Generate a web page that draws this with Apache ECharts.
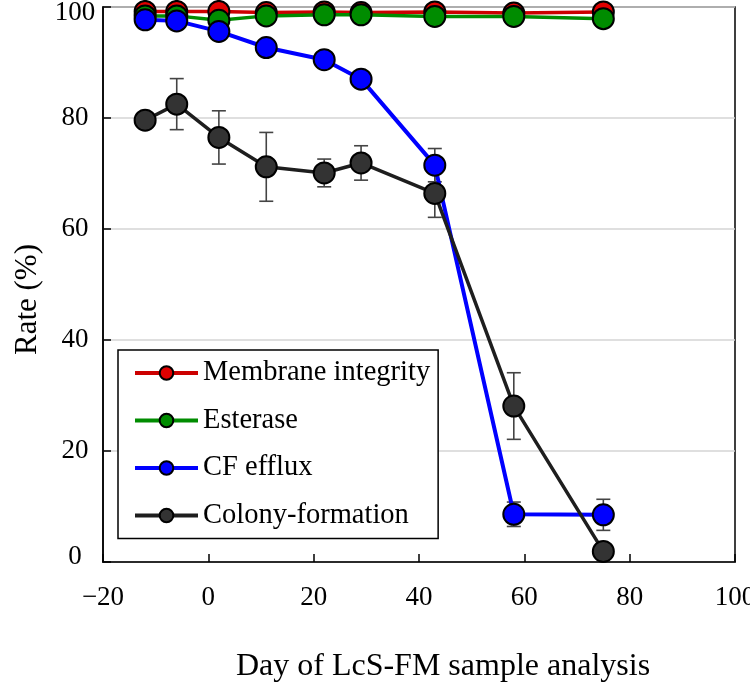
<!DOCTYPE html>
<html>
<head>
<meta charset="utf-8">
<script src="https://cdn.jsdelivr.net/npm/echarts@6/dist/echarts.min.js"></script>
<style>
html,body{margin:0;padding:0;background:#fff;}
#chart{width:750px;height:687px;}
</style>
</head>
<body>
<div id="chart"></div>
<script>
const days = [-12, -6, 2, 11, 22, 29, 43, 58, 75];
const membrane = [99.2, 99.2, 99.2, 99.0, 99.1, 99.0, 99.1, 98.9, 99.1];
const esterase = [98.4, 98.4, 97.6, 98.4, 98.6, 98.6, 98.3, 98.3, 97.9];
const cfEfflux = [97.7, 97.5, 95.6, 92.7, 90.5, 87.0, 71.5, 8.6, 8.5];
const cfEffluxErr = [0, 0, 0, 0, 0, 0, 3.0, 2.2, 2.8];
const colony = [79.6, 82.5, 76.5, 71.2, 70.1, 71.9, 66.4, 28.1, 1.9];
const colonyErr = [0, 4.6, 4.8, 6.2, 2.5, 3.1, 4.3, 6.0, 0];
const seriesNames = ['Membrane integrity', 'Esterase', 'CF efflux', 'Colony-formation'];
const xAxisTitle = 'Day of LcS-FM sample analysis';
const yAxisTitle = 'Rate (%)';

const FONT = '"Liberation Serif", "Times New Roman", serif';

function pairs(ys) { return days.map((d, i) => [d, ys[i]]); }
function errData(ys, es) {
  return days.map((d, i) => [d, ys[i] - es[i], ys[i] + es[i], es[i]]).filter(r => r[3] > 0);
}
function errRender(params, api) {
  const x = api.value(0);
  const lo = api.coord([x, api.value(1)]);
  const hi = api.coord([x, api.value(2)]);
  const w = 7;
  const st = { stroke: '#444', lineWidth: 1.6, fill: null };
  return {
    type: 'group',
    children: [
      { type: 'line', shape: { x1: lo[0], y1: lo[1], x2: hi[0], y2: hi[1] }, style: st },
      { type: 'line', shape: { x1: lo[0] - w, y1: lo[1], x2: lo[0] + w, y2: lo[1] }, style: st },
      { type: 'line', shape: { x1: hi[0] - w, y1: hi[1], x2: hi[0] + w, y2: hi[1] }, style: st }
    ]
  };
}
function lineSeries(name, ys, color, fill, width, z) {
  return {
    name: name, type: 'line', data: pairs(ys), z: z,
    symbol: 'circle', symbolSize: 21, showSymbol: true,
    lineStyle: { color: color, width: width },
    itemStyle: { color: fill, borderColor: '#000', borderWidth: 2 },
    emphasis: { disabled: true },
    clip: false
  };
}

const chart = echarts.init(document.getElementById('chart'), null, { renderer: 'canvas' });
chart.setOption({
  animation: false,
  backgroundColor: '#fff',
  grid: { left: 103, right: 15, top: 7, bottom: 125, outerBoundsMode: 'none', containLabel: false,
    show: true, borderColor: '#000', borderWidth: 1.5, backgroundColor: 'transparent' },
  legend: {
    data: seriesNames,
    orient: 'vertical', left: 118, top: 350,
    padding: [8, 8, 8, 15],
    itemGap: 17.5, itemWidth: 63, itemHeight: 17,
    lineStyle: { width: 4 },
    borderColor: '#000', borderWidth: 1.5, backgroundColor: '#fff',
    textStyle: { fontFamily: FONT, fontSize: 28.5, color: '#000', lineHeight: 30 },
    selectedMode: false
  },
  xAxis: {
    type: 'value', min: -20, max: 100, interval: 20,
    name: xAxisTitle, nameLocation: 'middle', nameGap: 89,
    nameTextStyle: { fontFamily: FONT, fontSize: 32, color: '#000', padding: [0, 0, 0, 48] },
    axisLine: { onZero: false, lineStyle: { color: '#000', width: 1.5 } },
    axisTick: { inside: true, length: 8, lineStyle: { color: '#000', width: 1.5 } },
    axisLabel: { fontFamily: FONT, fontSize: 27, color: '#000', margin: 22,
      formatter: v => String(v).replace('-', '\u2212') },
    splitLine: { show: false }
  },
  yAxis: {
    type: 'value', min: 0, max: 100, interval: 20,
    name: yAxisTitle, nameLocation: 'middle', nameGap: 59,
    nameTextStyle: { fontFamily: FONT, fontSize: 31, color: '#000', padding: [0, 30, 0, 0] },
    axisLine: { show: true, onZero: false, lineStyle: { color: '#000', width: 1.5 } },
    axisTick: { show: true, inside: true, length: 8, lineStyle: { color: '#000', width: 1.5 } },
    axisLabel: { fontFamily: FONT, fontSize: 27, color: '#000', margin: 28, align: 'center',
      formatter: v => v === 100 ? '{top|100}' : (v === 0 ? '{bot|0}' : String(v)),
      rich: {
        top: { fontFamily: FONT, fontSize: 27, color: '#000', padding: [12, 0, 0, 0] },
        bot: { fontFamily: FONT, fontSize: 27, color: '#000', padding: [0, 0, 10, 0] }
      }
    },
    splitLine: { show: true, lineStyle: { color: '#d4d4d4', width: 1.5 } }
  },
  series: [
    { type: 'custom', name: 'cfErr', renderItem: errRender, data: errData(cfEfflux, cfEffluxErr), z: 1, silent: true, encode: { x: 0, y: [1, 2] } },
    { type: 'custom', name: 'colErr', renderItem: errRender, data: errData(colony, colonyErr), z: 1, silent: true, encode: { x: 0, y: [1, 2] } },
    lineSeries(seriesNames[0], membrane, '#cc0000', '#e00000', 3.5, 2),
    lineSeries(seriesNames[1], esterase, '#008c00', '#008c00', 3.5, 3),
    lineSeries(seriesNames[2], cfEfflux, '#0000ff', '#0000ff', 4, 4),
    lineSeries(seriesNames[3], colony, '#1e1e1e', '#333333', 3.5, 5)
  ]
});
</script>
</body>
</html>
